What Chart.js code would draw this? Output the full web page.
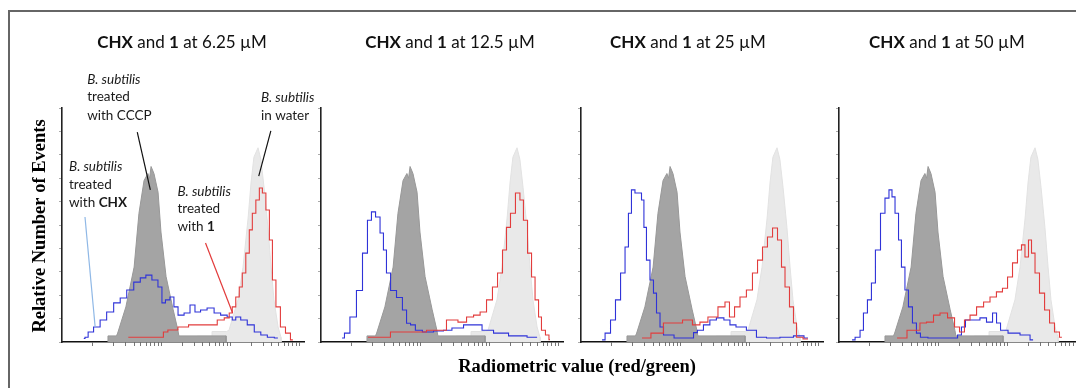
<!DOCTYPE html>
<html>
<head>
<meta charset="utf-8">
<script src="https://cdn.jsdelivr.net/npm/chart.js@4.4.1/dist/chart.umd.min.js"></script>
<style>
  html, body { margin: 0; padding: 0; background: #fff; }
  #wrap { position: relative; width: 1076px; height: 388px; overflow: hidden; }
  #wrap canvas { position: absolute; left: 0; top: 0; }
</style>
</head>
<body>
<div id="wrap">
  <canvas id="p0" width="1076" height="388"></canvas>
  <canvas id="p1" width="1076" height="388"></canvas>
  <canvas id="p2" width="1076" height="388"></canvas>
  <canvas id="p3" width="1076" height="388"></canvas>
</div>
<script>
// concentrations of CHX and compound 1, one per panel
const concentrations = ['6.25', '12.5', '25', '50'];

// control histograms, [channel, relative events] (same in every panel)
const cccpControl = [[19,0],[19,2.6],[22.5,2.6],[23,3.8],[26.4,15],[29.8,32],[31.8,55],[33.9,69],[35.5,72],[36.2,70],[36.8,75],[38,72],[39.7,64],[40.9,47],[43,28],[45.9,14],[47.9,5],[48.3,2.6],[67.8,2.6],[67.8,0]];
const waterControl = [[56,0],[56,2.5],[62,2.5],[62,4.5],[68,4.5],[69,5],[72.7,18],[74.8,32],[76.9,53],[78.1,68],[79.3,79],[81,83],[82.2,78],[83.5,66],[85.1,49],[86.4,32],[87.6,18],[89.3,6.4],[90.5,2],[90.5,0]];

// B. subtilis treated with CHX, per concentration
const chx625 = [[9,1.5],[10,2],[11.6,4.3],[14.5,6.4],[17,9.4],[19.9,12.8],[22.8,16.7],[25.3,18.8],[28.2,22.2],[31.1,25.6],[33.6,27.4],[35.7,28.6],[38.6,26.5],[40.7,23.5],[41.9,16.7],[43.6,18],[45.6,19.2],[46.9,15],[49,11.5],[51.9,12.4],[53.9,15.8],[56,12.8],[58.5,13.7],[61.4,14.5],[64.3,12.4],[66.8,11.5],[69.7,10.7],[71,9.4],[72.6,10.7],[75.1,9.4],[78,7.3],[80.9,4.3],[83.4,3],[86.3,2],[89.2,1.7]];
const chx125 = [[8.7,1.7],[10.7,3.8],[13.2,10.7],[16.1,22],[18.2,38],[20.2,52],[21.5,55.6],[23.6,53.4],[25.2,46.6],[26.4,39.3],[27.7,29.5],[29.8,22],[32.6,19],[34.7,13.7],[36,8],[38,7.3],[40,5],[43.8,4.3],[49.2,4.7],[52,5],[56.2,6],[61.6,7.3],[64.5,7.3],[68.6,5],[74,3.8],[81,2.6],[89.3,2]];
const chx25 = [[8.7,0.9],[11.2,3.8],[13.2,9.4],[15.3,18],[17.4,29.5],[19,40.6],[20.2,55],[21.5,65],[23.1,63.7],[24.4,63.7],[25.6,60.7],[26.4,49],[27.7,35],[29.3,26.5],[30.6,20.9],[31.8,12.4],[33.5,6.4],[34.7,3],[36.8,3],[40.1,1.7],[46,1.7],[47,4],[49.2,5],[52,7.3],[54.5,9.4],[57.4,10.3],[60.7,9.4],[62.4,7.3],[65.7,6.4],[71,5],[74,2],[79.3,1.7],[85.1,2],[90.5,2.6],[93.8,1.7]];
const chx50 = [[5.4,0.9],[7.9,2],[9.5,5],[10.7,12.4],[12.8,18],[14,25.2],[16.1,39.3],[18.2,55],[19.8,61.5],[21.5,65],[22.3,62],[24,55],[25.2,43.6],[26.4,32],[28.1,22.2],[29.3,15],[31.4,8.1],[32.6,3.8],[34.7,2],[38.8,1.7],[48,1.7],[50,3],[51.2,6.4],[53.3,9.4],[57,9.4],[59.5,10.3],[62.4,8.5],[64.5,12.4],[65.7,8.1],[67.8,5],[71.9,3.8],[77.7,3],[80.2,0.9]];

// B. subtilis treated with 1, per concentration
const one625 = [[27.4,2],[41.9,2],[41.9,4.3],[45.6,5.1],[50.2,6.4],[54.4,7.3],[62.7,7.3],[65.6,9.4],[68.5,10.3],[69.7,12.4],[71,15],[72.6,19.2],[73.9,23.5],[75.1,29.5],[76.8,38],[78,47.9],[79.3,55],[80.9,60.7],[82.2,65.8],[83.4,63.7],[85.1,56.4],[86.3,43.6],[87.6,26.5],[89.2,15],[91.3,6.4],[93.4,3.8],[95.4,0.9]];
const one125 = [[19.4,2],[38,4.3],[49.2,5],[54.5,9.4],[58.7,8.5],[61.6,10.7],[64.5,11.5],[67,12.8],[69.8,18],[71.9,23.5],[74,29.5],[76,39.3],[77.3,49],[79.3,55],[81.4,63.7],[83,60.7],[84.3,52],[86.4,38],[87.6,27.8],[89.3,18],[90.5,10.7],[91.7,5],[93.8,3],[94.6,1]];
const one25 = [[25.2,1.7],[32.6,3.8],[35.5,8.1],[39.7,8.1],[44.2,9.4],[47.9,7.3],[50.4,8.5],[54.5,10.7],[58.7,15],[60.3,17.1],[62.4,10.7],[64.5,15],[66.9,19.2],[69.8,22.2],[71.9,29.5],[74,35],[76,40.6],[78.1,44.9],[80.2,48.7],[82.2,43.6],[83.5,32],[85.1,23.5],[87.2,15],[88.4,8.1],[89.7,2],[93.8,1.3]];
const one50 = [[24,1.7],[32.2,5],[34.7,8.1],[37.6,8.5],[40.5,11.5],[43,12.4],[46.7,10.3],[48.8,6.4],[50.8,4.3],[52.9,9.4],[55.4,11.5],[58.3,15],[61.2,17.1],[63.6,19.2],[66.5,21.4],[68.6,23],[70.7,27.8],[72.7,33.8],[74.8,39.3],[76,41.5],[77.7,36.3],[78.9,43.6],[80.2,38],[81.8,29.5],[83.9,20.9],[86,13.7],[88,8.1],[90.1,4.3],[92.1,2]];

const chxSeries = [chx625, chx125, chx25, chx50];
const oneSeries = [one625, one125, one25, one50];

// log-style minor ticks on the radiometric axis
const decadeStarts = [12.6, 41.1, 69.6];
const decadeWidth = 28.5;
const xTicks = [];
decadeStarts.forEach(d => { for (let k = 1; k <= 9; k++) xTicks.push(d + decadeWidth * Math.log10(k)); });
xTicks.push(98.1);

// layout of the four panels (pixel positions)
const plotLefts = [62, 321, 581, 839];
const plotWidth = 242;
const plotTop = 108;
const plotBottom = 342;
const titleCenters = [182, 450, 688, 947];

// labels inside the first panel, positions in its data units
const notes = [
  { x: 10.4, ys: [112, 104.7, 96.6], lines: [[['B. subtilis', 'italic']], [['treated', '']], [['with CCCP', '']]] },
  { x: 82.2, ys: [104.3, 96.6], lines: [[['B. subtilis', 'italic']], [['in water', '']]] },
  { x: 2.9, ys: [74.8, 67.1, 59.4], lines: [[['B. subtilis', 'italic']], [['treated', '']], [['with ', ''], ['CHX', 'bold']]] },
  { x: 47.7, ys: [64.1, 56.8, 49.1], lines: [[['B. subtilis', 'italic']], [['treated', '']], [['with ', ''], ['1', 'bold']]] }
];
const pointers = [
  { from: [31.1, 89.7], to: [36.5, 65], color: '#111' },
  { from: [86.3, 90.2], to: [81.3, 70.9], color: '#111' },
  { from: [9.5, 53.4], to: [13.7, 6.4], color: '#8fb8e6' },
  { from: [59.3, 42.3], to: [70.5, 12.4], color: '#e23a3a' }
];

function drawRich(ctx, parts, x, y, size, family, align) {
  const fontFor = s => `${s} ${size}px ${family}`.trim();
  let total = 0;
  parts.forEach(([t, s]) => { ctx.font = fontFor(s); total += ctx.measureText(t).width; });
  let cx = align === 'center' ? x - total / 2 : x;
  ctx.textAlign = 'left';
  ctx.textBaseline = 'middle';
  parts.forEach(([t, s]) => {
    ctx.font = fontFor(s);
    ctx.fillText(t, cx, y);
    cx += ctx.measureText(t).width;
  });
}

const panelText = {
  id: 'panelText',
  afterDraw(chart, args, opts) {
    const ctx = chart.ctx;
    ctx.save();
    ctx.fillStyle = '#111';
    drawRich(ctx, [['CHX', 'bold'], [' and ', ''], ['1', 'bold'], [` at ${concentrations[opts.idx]} µM`, '']],
      titleCenters[opts.idx], 43, 17, 'Lato', 'center');

    if (opts.idx === 0) {
      const xs = chart.scales.x, ys = chart.scales.y;
      // outer frame
      ctx.strokeStyle = '#666';
      ctx.lineWidth = 2;
      ctx.beginPath();
      ctx.moveTo(9, 388);
      ctx.lineTo(9, 11);
      ctx.lineTo(1076, 11);
      ctx.stroke();

      // axis titles
      ctx.fillStyle = '#000';
      ctx.font = 'bold 18.5px "Liberation Serif"';
      ctx.textAlign = 'center';
      ctx.textBaseline = 'middle';
      ctx.fillText('Radiometric value (red/green)', 577, 367);
      ctx.save();
      ctx.translate(40, 226);
      ctx.rotate(-Math.PI / 2);
      ctx.fillText('Relative Number of Events', 0, 0);
      ctx.restore();

      // labels and their pointers
      ctx.fillStyle = '#1a1a1a';
      notes.forEach(n => {
        n.lines.forEach((parts, i) => {
          drawRich(ctx, parts, xs.getPixelForValue(n.x), ys.getPixelForValue(n.ys[i]), 13.5, 'Lato', 'left');
        });
      });
      pointers.forEach(p => {
        ctx.strokeStyle = p.color;
        ctx.lineWidth = 1.2;
        ctx.beginPath();
        ctx.moveTo(xs.getPixelForValue(p.from[0]), ys.getPixelForValue(p.from[1]));
        ctx.lineTo(xs.getPixelForValue(p.to[0]), ys.getPixelForValue(p.to[1]));
        ctx.stroke();
      });
    }
    ctx.restore();
  }
};

function makePanel(idx) {
  const xMax = Math.min(100, (1076 - plotLefts[idx]) / (plotWidth / 100));
  const right = 1076 - plotLefts[idx] - plotWidth * xMax / 100;
  new Chart(document.getElementById('p' + idx), {
    type: 'line',
    data: {
      datasets: [
        { label: '1', data: oneSeries[idx], borderColor: '#e23c3c', borderWidth: 1.1, stepped: 'middle', pointRadius: 0, fill: false },
        { label: 'CHX', data: chxSeries[idx], borderColor: '#2f33d8', borderWidth: 1.1, stepped: 'middle', pointRadius: 0, fill: false },
        { label: 'CCCP', data: cccpControl, borderColor: '#989898', backgroundColor: '#a4a4a4', borderWidth: 1, pointRadius: 0, fill: 'origin' },
        { label: 'water', data: waterControl, borderColor: '#e2e2e2', backgroundColor: '#e9e9e9', borderWidth: 1, pointRadius: 0, fill: 'origin' }
      ]
    },
    options: {
      responsive: false,
      animation: false,
      events: [],
      layout: { padding: { left: plotLefts[idx], right: right, top: plotTop, bottom: 388 - plotBottom } },
      plugins: {
        legend: { display: false },
        tooltip: { enabled: false },
        panelText: { idx: idx }
      },
      scales: {
        x: {
          type: 'linear', min: 0, max: xMax,
          afterFit: s => { s.height = 0; },
          afterBuildTicks: s => { s.ticks = xTicks.filter(v => v <= s.max).map(v => ({ value: v })); },
          ticks: { display: false },
          grid: { drawOnChartArea: false, drawTicks: true, tickLength: 4, color: '#777', lineWidth: 1 },
          border: { display: true, color: '#111', width: 1.6 }
        },
        y: {
          type: 'linear', min: 0, max: 100,
          afterFit: s => { s.width = 0; },
          ticks: { display: false, stepSize: 10 },
          grid: { drawOnChartArea: false, drawTicks: true, tickLength: 3, color: '#aaa', lineWidth: 1 },
          border: { display: true, color: '#222', width: 1.6 }
        }
      }
    },
    plugins: [panelText]
  });
}

[0, 1, 2, 3].forEach(makePanel);
</script>
</body>
</html>
